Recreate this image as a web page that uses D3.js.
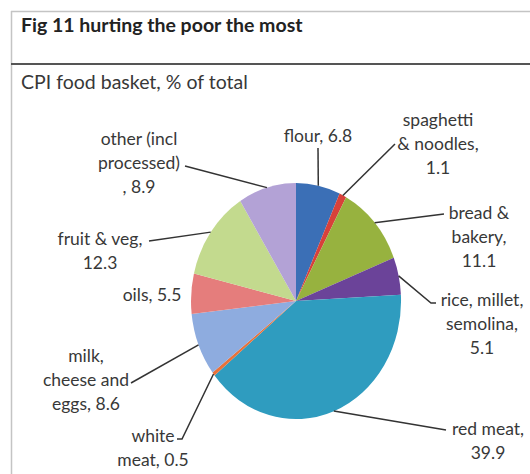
<!DOCTYPE html>
<html>
<head>
<meta charset="utf-8">
<script src="https://cdn.jsdelivr.net/npm/d3@7/dist/d3.min.js"></script>
<style>
  html, body { margin: 0; padding: 0; background: #fff; }
  svg { display: block; }
  text { font-family: Lato, "Open Sans", sans-serif; fill: #383838; }
</style>
</head>
<body>
<script>
// CPI food basket shares, % of total (clockwise from 12 o'clock)
const categories = ["flour", "spaghetti & noodles", "bread & bakery", "rice, millet, semolina",
  "red meat", "white meat", "milk, cheese and eggs", "oils", "fruit & veg", "other (incl processed)"];
const shares = [6.8, 1.1, 11.1, 5.1, 39.9, 0.5, 8.6, 5.5, 12.3, 8.9];
const colors = ["#3b6fb6", "#d8413a", "#97b23f", "#6b4399", "#2f9cbf",
  "#e8723a", "#8eacdf", "#e57d7c", "#c3da8e", "#b3a2d6"];

const title = "Fig 11 hurting the poor the most";
const subtitle = "CPI food basket, % of total";

// Label text lines; "{v}" is replaced by the slice value
const labelLines = [
  ["flour, {v}"],
  ["spaghetti", "& noodles,", "{v}"],
  ["bread &", "bakery,", "{v}"],
  ["rice, millet,", "semolina,", "{v}"],
  ["red meat,", "{v}"],
  ["white", "meat, {v}"],
  ["milk,", "cheese and", "eggs, {v}"],
  ["oils, {v}"],
  ["fruit & veg,", "{v}"],
  ["other (incl", "processed)", ", {v}"]
];

const W = 530, H = 474;
const cx = 296, cy = 301, rx = 105, ry = 118;

// label placement: x,y = centre of first line; leader = start point of connector (null = none)
const labelPos = [
  {x: 318, y: 136, leader: [318, 148]},
  {x: 438, y: 120, leader: [395, 144]},
  {x: 479, y: 213, leader: [444, 214]},
  {x: 482, y: 300, leader: [436, 303], elbow: [431, 303]},
  {x: 488, y: 429, leader: [446, 430]},
  {x: 153, y: 436, leader: [177, 439], elbow: [182, 439]},
  {x: 86,  y: 356, leader: [131, 383], elbow: [131, 383]},
  {x: 152, y: 295, leader: null},
  {x: 100, y: 239, leader: [149, 241]},
  {x: 139, y: 139, leader: [185, 166]}
];

const svg = d3.select("body").append("svg").attr("width", W).attr("height", H);

svg.append("rect").attr("width", W).attr("height", H).attr("fill", "#fff");

// frame
svg.append("line").attr("x1", 11).attr("x2", W).attr("y1", 11.5).attr("y2", 11.5)
  .attr("stroke", "#c4c4c4").attr("stroke-width", 1.5);
svg.append("line").attr("x1", 11.5).attr("x2", 11.5).attr("y1", 11).attr("y2", H)
  .attr("stroke", "#c4c4c4").attr("stroke-width", 1.5);
svg.append("line").attr("x1", 11).attr("x2", W).attr("y1", 64).attr("y2", 64)
  .attr("stroke", "#555").attr("stroke-width", 2);

svg.append("text").attr("x", 21).attr("y", 32)
  .style("font-weight", "bold").style("font-size", "19.5px").style("fill", "#222").text(title);
svg.append("text").attr("x", 21).attr("y", 89)
  .style("font-size", "19.5px").text(subtitle);

// pie, drawn on a unit circle and stretched to the ellipse
const pie = d3.pie().sort(null).value(d => d)(shares);
const arc = d3.arc().innerRadius(0).outerRadius(1);

const g = svg.append("g").attr("transform", `translate(${cx},${cy}) scale(${rx},${ry})`);
g.selectAll("path").data(pie).join("path")
  .attr("d", arc)
  .attr("fill", (d, i) => colors[i]);

const edgePoint = d => {
  const a = (d.startAngle + d.endAngle) / 2;
  return [cx + rx * Math.sin(a), cy - ry * Math.cos(a)];
};

// leader lines
pie.forEach((d, i) => {
  const p = labelPos[i];
  if (!p.leader) return;
  const pts = [];
  if (p.elbow) pts.push(p.leader);
  pts.push(p.elbow || p.leader);
  pts.push(edgePoint(d));
  svg.append("path")
    .attr("d", d3.line()(pts))
    .attr("fill", "none").attr("stroke", "#333").attr("stroke-width", 1.5);
});

// labels
const lineH = 24;
pie.forEach((d, i) => {
  const p = labelPos[i];
  const t = svg.append("text").attr("text-anchor", "middle").style("font-size", "17.5px");
  labelLines[i].forEach((ln, k) => {
    t.append("tspan").attr("x", p.x).attr("y", p.y + 6 + k * lineH)
      .text(ln.replace("{v}", shares[i].toFixed(1)));
  });
});
</script>
</body>
</html>
